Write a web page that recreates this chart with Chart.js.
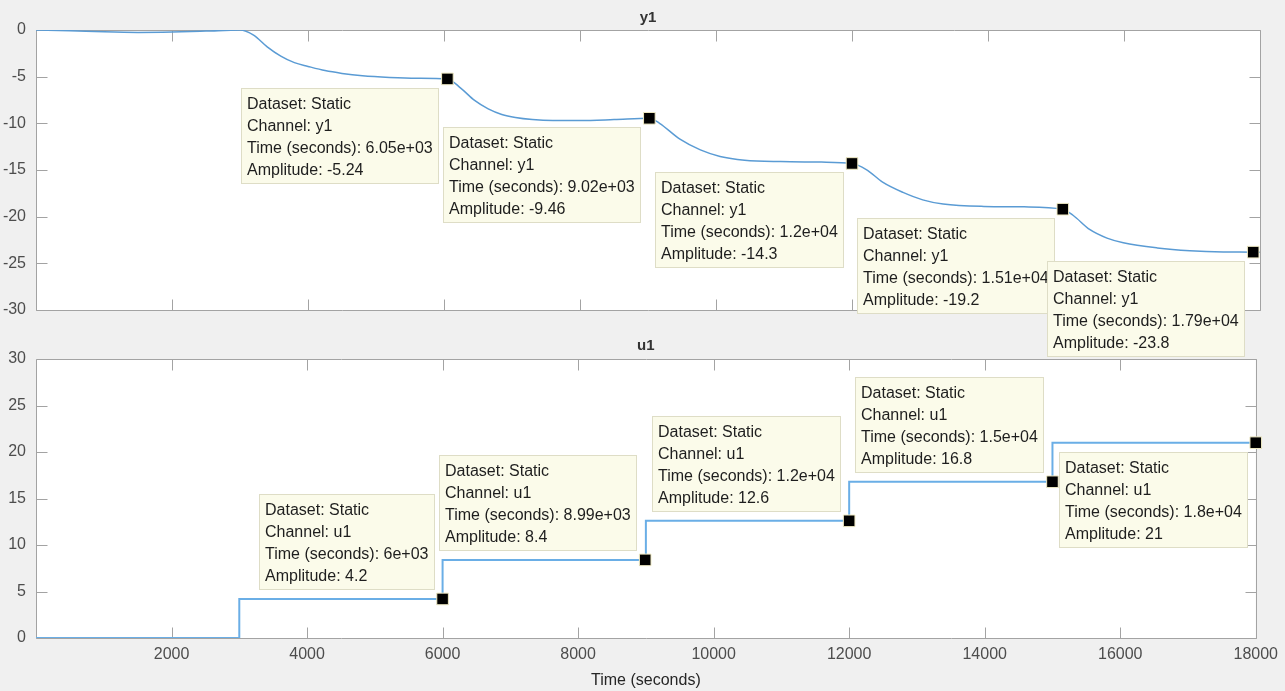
<!DOCTYPE html>
<html lang="en">
<head>
    <meta charset="UTF-8">
    <title>y1 / u1 - Static dataset</title>
    <script src="https://cdn.jsdelivr.net/npm/chart.js"></script>
    <style>
        body { margin: 0; background: #f0f0f0; width: 1285px; height: 691px; overflow: hidden; }
        canvas { position: absolute; left: 0; }
        #topChart { top: 0; z-index: 2; }
        #bottomChart { top: 330px; z-index: 1; }
    </style>
</head>
<body>
    <canvas id="topChart" width="1285" height="358"></canvas>
    <canvas id="bottomChart" width="1285" height="361"></canvas>

    <script>
        // y1 response
        const yTimes = [0, 500, 1000, 1500, 2000, 2500, 3000, 3200, 3400, 3600, 3800, 4000, 4250, 4500, 4800, 5200, 5600, 6050,
            6250, 6450, 6650, 6850, 7050, 7300, 7600, 8000, 8500, 9020,
            9170, 9470, 9770, 10060, 10420, 10950, 11550, 12000,
            12210, 12450, 12750, 13040, 13340, 13940, 14530, 15100,
            15250, 15500, 15750, 15990, 16490, 16970, 17460, 17900, 18000];
        const yValues = [0, -0.08, -0.2, -0.26, -0.22, -0.12, 0, -0.55, -1.8, -2.8, -3.5, -3.9, -4.35, -4.65, -4.9, -5.08, -5.17, -5.24,
            -6.25, -7.55, -8.45, -9.05, -9.38, -9.6, -9.7, -9.7, -9.6, -9.46,
            -10.0, -11.7, -12.85, -13.55, -13.95, -14.1, -14.15, -14.3,
            -14.95, -16.3, -17.4, -18.2, -18.65, -18.9, -18.95, -19.2,
            -19.85, -21.4, -22.3, -22.8, -23.35, -23.65, -23.78, -23.8, -23.82];

        // u1 input (value holds from each time on)
        const uTimes = [0, 3000, 6000, 9000, 12000, 15000, 18000];
        const uValues = [0, 4.2, 8.4, 12.6, 16.8, 21, 21];

        // data tips
        const yTipTimes = [6050, 9020, 12000, 15100, 17900];
        const yTipAmps = [-5.24, -9.46, -14.3, -19.2, -23.8];
        const uTipTimes = [6000, 8990, 12000, 15000, 18000];
        const uTipAmps = [4.2, 8.4, 12.6, 16.8, 21];

        const FONT = '"Liberation Sans", Arial, Helvetica, sans-serif';
        Chart.defaults.font.family = FONT;

        const pts = (xs, ys) => xs.map((x, i) => ({ x: x, y: ys[i] }));

        // MATLAB-like number text: 6.05e+03, 1.2e+04, -5.24, 21
        function fmt(v) {
            if (Math.abs(v) >= 1000) {
                const [m, e] = v.toExponential(2).split('e');
                const exp = parseInt(e, 10);
                return m.replace(/\.?0+$/, '') + 'e' + (exp < 0 ? '-' : '+') + String(Math.abs(exp)).padStart(2, '0');
            }
            return String(Number(v.toPrecision(3)));
        }

        // white plot area, box and inward tick marks
        const axesBox = {
            id: 'axesBox',
            beforeDraw(chart) {
                const { ctx, chartArea: a } = chart;
                ctx.save();
                ctx.fillStyle = '#ffffff';
                ctx.fillRect(a.left, a.top, a.right - a.left, a.bottom - a.top);
                ctx.restore();
            },
            beforeDatasetsDraw(chart) {
                const { ctx, chartArea: a, scales } = chart;
                const len = 11;
                const L = Math.round(a.left) + 0.5, R = Math.round(a.right) + 0.5;
                const T = Math.round(a.top) + 0.5, B = Math.round(a.bottom) + 0.5;
                ctx.save();
                ctx.strokeStyle = '#a3a3a3';
                ctx.lineWidth = 1;
                ctx.beginPath();
                ctx.rect(L, T, R - L, B - T);
                scales.x.ticks.forEach(t => {
                    const px = Math.round(scales.x.getPixelForValue(t.value)) + 0.5;
                    ctx.moveTo(px, B); ctx.lineTo(px, B - len);
                    ctx.moveTo(px, T); ctx.lineTo(px, T + len);
                });
                scales.y.ticks.forEach(t => {
                    const py = Math.round(scales.y.getPixelForValue(t.value)) + 0.5;
                    ctx.moveTo(L, py); ctx.lineTo(L + len, py);
                    ctx.moveTo(R, py); ctx.lineTo(R - len, py);
                });
                ctx.stroke();
                ctx.restore();
            }
        };

        // yellow data tip boxes next to the markers
        const datatips = {
            id: 'datatips',
            afterDatasetsDraw(chart, args, opts) {
                const { ctx, scales: { x, y } } = chart;
                ctx.save();
                ctx.font = '16px ' + FONT;
                ctx.textBaseline = 'middle';
                opts.times.forEach((t, i) => {
                    const amp = opts.amps[i];
                    const lines = ['Dataset: Static', 'Channel: ' + opts.channel,
                        'Time (seconds): ' + fmt(t), 'Amplitude: ' + fmt(amp)];
                    const w = Math.ceil(Math.max(...lines.map(s => ctx.measureText(s).width))) + 12;
                    const h = 96;
                    const px = x.getPixelForValue(t), py = y.getPixelForValue(amp);
                    const left = Math.round(px - 8 - w);
                    const top = Math.round(opts.sides[i] === 'above' ? py - 9 - h : py + 9);
                    ctx.fillStyle = '#fbfbea';
                    ctx.fillRect(left, top, w, h);
                    ctx.strokeStyle = '#deddc6';
                    ctx.strokeRect(left + 0.5, top + 0.5, w - 1, h - 1);
                    ctx.fillStyle = '#1e1e1e';
                    lines.forEach((s, k) => ctx.fillText(s, left + 6, top + 17 + k * 21.7));
                });
                ctx.restore();
            }
        };

        const tickFont = { size: 16 };
        const tickColor = '#4d4d4d';

        // top plot: y1
        new Chart(document.getElementById('topChart'), {
            type: 'line',
            data: {
                datasets: [{
                    data: pts(yTimes, yValues),
                    order: 2,
                    borderColor: '#5a9bd4',
                    borderWidth: 1.5,
                    pointRadius: 0,
                    cubicInterpolationMode: 'monotone'
                }, {
                    data: pts(yTipTimes, yTipAmps),
                    order: 1,
                    showLine: false,
                    pointStyle: 'rect',
                    pointRadius: 8.2,
                    backgroundColor: '#000000',
                    borderColor: '#efeac4',
                    borderWidth: 1,
                    clip: false
                }]
            },
            options: {
                responsive: false,
                animation: false,
                events: [],
                layout: { padding: { left: 0, right: 25, top: 0, bottom: 0 } },
                scales: {
                    x: {
                        type: 'linear', min: 0, max: 18000,
                        ticks: { stepSize: 2000, display: false },
                        grid: { display: false, drawTicks: false },
                        border: { display: false },
                        afterFit: s => { s.height = 48; }
                    },
                    y: {
                        min: -30, max: 0,
                        ticks: { stepSize: 5, color: tickColor, font: tickFont, padding: 10 },
                        grid: { display: false, drawTicks: false },
                        border: { display: false },
                        afterFit: s => { s.width = 36; }
                    }
                },
                plugins: {
                    legend: { display: false },
                    tooltip: { enabled: false },
                    title: {
                        display: true, text: 'y1', fullSize: false, color: '#333333',
                        font: { size: 15, weight: 'bold' }, padding: { top: 9, bottom: 3 }
                    },
                    datatips: {
                        channel: 'y1', times: yTipTimes, amps: yTipAmps,
                        sides: ['below', 'below', 'below', 'below', 'below']
                    }
                }
            },
            plugins: [axesBox, datatips]
        });

        // bottom plot: u1
        new Chart(document.getElementById('bottomChart'), {
            type: 'line',
            data: {
                datasets: [{
                    data: pts(uTimes, uValues),
                    order: 2,
                    borderColor: '#6aaee6',
                    borderWidth: 2,
                    pointRadius: 0,
                    stepped: 'before'
                }, {
                    data: pts(uTipTimes, uTipAmps),
                    order: 1,
                    showLine: false,
                    pointStyle: 'rect',
                    pointRadius: 8.2,
                    backgroundColor: '#000000',
                    borderColor: '#efeac4',
                    borderWidth: 1,
                    clip: false
                }]
            },
            options: {
                responsive: false,
                animation: false,
                events: [],
                layout: { padding: { left: 0, right: 25, top: 0, bottom: 0 } },
                scales: {
                    x: {
                        type: 'linear', min: 0, max: 18000,
                        ticks: {
                            stepSize: 2000, color: tickColor, font: tickFont, padding: 7,
                            maxRotation: 0, autoSkip: false,
                            callback: v => (v === 0 ? null : String(v))
                        },
                        grid: { display: false, drawTicks: false },
                        border: { display: false },
                        title: {
                            display: true, text: 'Time (seconds)', color: '#262626',
                            font: { size: 16 }, padding: { top: 0, bottom: 1 }
                        },
                        afterFit: s => { s.height = 53; }
                    },
                    y: {
                        min: 0, max: 30,
                        ticks: { stepSize: 5, color: tickColor, font: tickFont, padding: 10 },
                        grid: { display: false, drawTicks: false },
                        border: { display: false },
                        afterFit: s => { s.width = 36; }
                    }
                },
                plugins: {
                    legend: { display: false },
                    tooltip: { enabled: false },
                    title: {
                        display: true, text: 'u1', fullSize: false, color: '#333333',
                        font: { size: 15, weight: 'bold' }, padding: { top: 7, bottom: 4 }
                    },
                    datatips: {
                        channel: 'u1', times: uTipTimes, amps: uTipAmps,
                        sides: ['above', 'above', 'above', 'above', 'below']
                    }
                }
            },
            plugins: [axesBox, datatips]
        });
    </script>
</body>
</html>
